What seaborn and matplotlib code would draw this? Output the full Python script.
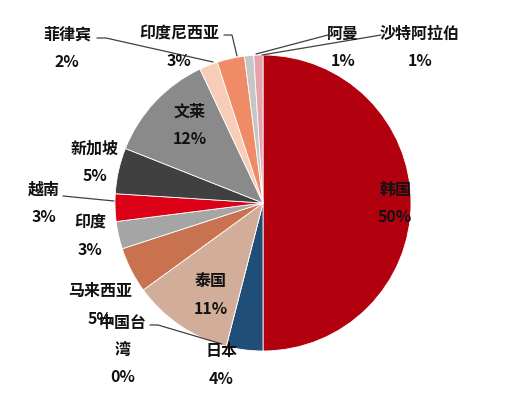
import matplotlib
matplotlib.use("Agg")
import matplotlib.pyplot as plt
import seaborn as sns

# Share of imports by origin (%), clockwise from 12 o'clock
countries = ["韩国", "日本", "中国台湾", "泰国", "马来西亚", "印度", "越南",
             "新加坡", "文莱", "菲律宾", "印度尼西亚", "阿曼", "沙特阿拉伯"]
shares = [50, 4, 0, 11, 5, 3, 3, 5, 12, 2, 3, 1, 1]
label_texts = ["韩国", "日本", "中国台\n湾", "泰国", "马来西亚", "印度", "越南",
               "新加坡", "文莱", "菲律宾", "印度尼西亚", "阿曼", "沙特阿拉伯"]

slice_colors = ["#B3000F", "#1F4E79", "#7F7F7F", "#D2AE9A", "#C87250", "#A5A5A5",
                "#DC0016", "#404040", "#8A8A8A", "#F8CDB8", "#EF8B67", "#C6C6C6",
                "#E6A3AB"]

sns.set_theme(style="white")
plt.rcParams["font.family"] = ["Noto Sans CJK SC", "DejaVu Sans"]

W, H = 505, 397
fig = plt.figure(figsize=(W / 100, H / 100), dpi=100)
cx, cy, r = 263, 203, 148
ax = fig.add_axes([(cx - r) / W, (H - cy - r) / H, 2 * r / W, 2 * r / H])

ax.pie(shares, colors=slice_colors, startangle=90, counterclock=False,
       radius=1.0, wedgeprops=dict(edgecolor="white", linewidth=0.6))
ax.set_xlim(-1, 1)
ax.set_ylim(-1, 1)
ax.set_aspect("equal")
ax.axis("off")


def px(x, y):
    """pixel position -> pie data units"""
    return (x - cx) / r, (cy - y) / r


# label anchor positions (pixels, text centre)
label_pos = [(395, 203), (221, 365), (123, 350), (211, 295), (100, 305),
             (90, 236), (44, 203), (95, 162), (190, 125), (67, 48),
             (179, 47), (343, 47), (420, 47)]

for name, val, (x, y) in zip(label_texts, shares, label_pos):
    tx, ty = px(x, y)
    ax.text(tx, ty, f"{name}\n{val}%", ha="center", va="center",
            fontsize=11.5, fontweight="bold", color="#111111",
            linespacing=1.85, clip_on=False)

# leader lines for the narrow slices
leaders = [
    [(97, 38), (106, 38), (213, 62)],     # 菲律宾
    [(224, 35), (232, 35), (237, 56)],    # 印度尼西亚
    [(328, 35), (256, 54)],               # 阿曼
    [(381, 35), (262, 55)],               # 沙特阿拉伯
    [(63, 196), (114, 201)],              # 越南
    [(150, 325), (158, 325), (222, 344)], # 中国台湾
]
for pts in leaders:
    xs, ys = zip(*[px(a, b) for a, b in pts])
    ax.plot(xs, ys, color="#404040", linewidth=0.9, clip_on=False)

fig.savefig("out.png", dpi=100, facecolor="white")
